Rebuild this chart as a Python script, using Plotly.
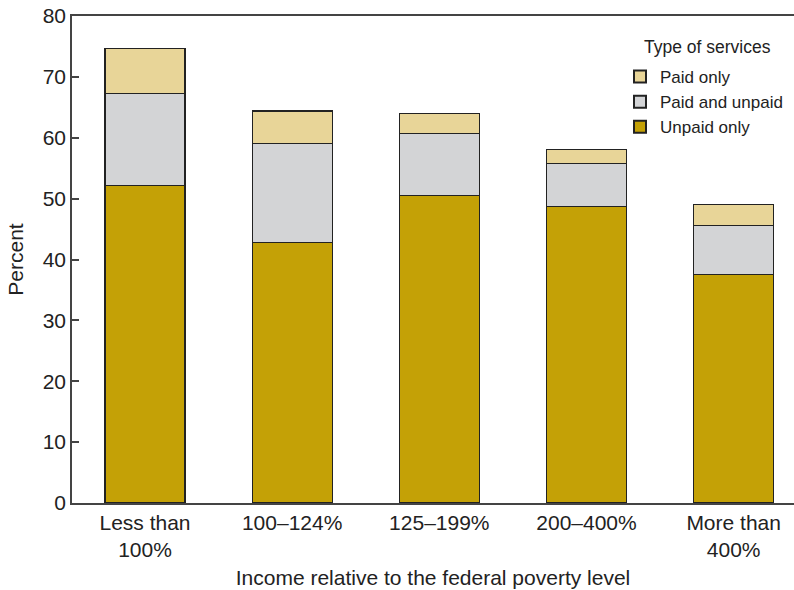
import plotly.graph_objects as go

categories = ["Less than<br>100%", "100–124%", "125–199%", "200–400%", "More than<br>400%"]
unpaid_only = [52.2, 42.8, 50.5, 48.7, 37.5]
paid_and_unpaid = [15.1, 16.3, 10.2, 7.1, 8.1]
paid_only = [7.4, 5.3, 3.3, 2.3, 3.5]
y_ticks = [0, 10, 20, 30, 40, 50, 60, 70, 80]

x = list(range(len(categories)))
line = dict(color="#222222", width=1.2)
fig = go.Figure()
fig.add_bar(x=x, y=unpaid_only, name="Unpaid only", marker=dict(color="#C4A106", line=line), width=0.543)
fig.add_bar(x=x, y=paid_and_unpaid, name="Paid and unpaid", marker=dict(color="#D3D4D6", line=line), width=0.543)
fig.add_bar(x=x, y=paid_only, name="Paid only", marker=dict(color="#E8D598", line=line), width=0.543)

font = "Liberation Sans, Arial, Helvetica, sans-serif"
W, H = 794, 590
L, T, B = 72, 16, 87
pw, ph = W - L, H - T - B

fig.add_annotation(
    text="Type of services", xref="paper", yref="paper",
    x=(707 - L) / pw, y=1 - (47 - T) / ph,
    xanchor="center", yanchor="middle", showarrow=False,
    font=dict(size=17.5, color="#222222"),
)

fig.update_layout(
    barmode="stack",
    width=W, height=H,
    margin=dict(l=L, r=0, t=T, b=B, autoexpand=False),
    paper_bgcolor="white", plot_bgcolor="white",
    font=dict(family=font, size=21, color="#222222"),
    showlegend=True,
    legend=dict(
        x=(628 - L - 8) / pw, y=1 - (59 - T) / ph, xanchor="left", yanchor="top",
        traceorder="reversed",
        font=dict(size=17),
        bgcolor="rgba(0,0,0,0)",
        itemsizing="constant",
        tracegroupgap=0,
        borderwidth=0,
    ),
    xaxis=dict(
        tickmode="array", tickvals=x, ticktext=categories,
        range=[-0.496, 4.41], automargin=False,
        showline=True, linecolor="#444444", linewidth=1.5, mirror=True,
        ticks="", showgrid=False, zeroline=False,
        title=dict(text="Income relative to the federal poverty level", standoff=10, font=dict(size=21)),
        tickfont=dict(size=21),
    ),
    yaxis=dict(
        range=[0, 80], tickmode="array", tickvals=y_ticks, automargin=False,
        showline=True, linecolor="#444444", linewidth=1.5,
        ticks="inside", ticklen=7, tickcolor="#444444", tickwidth=1.5,
        showgrid=False, zeroline=False, ticklabeloverflow="allow",
        title=dict(text="Percent", standoff=13, font=dict(size=21)),
        tickfont=dict(size=21),
    ),
)
fig.write_html("out.html", config={"displayModeBar": False},
               post_script="document.body.style.margin='0';")
